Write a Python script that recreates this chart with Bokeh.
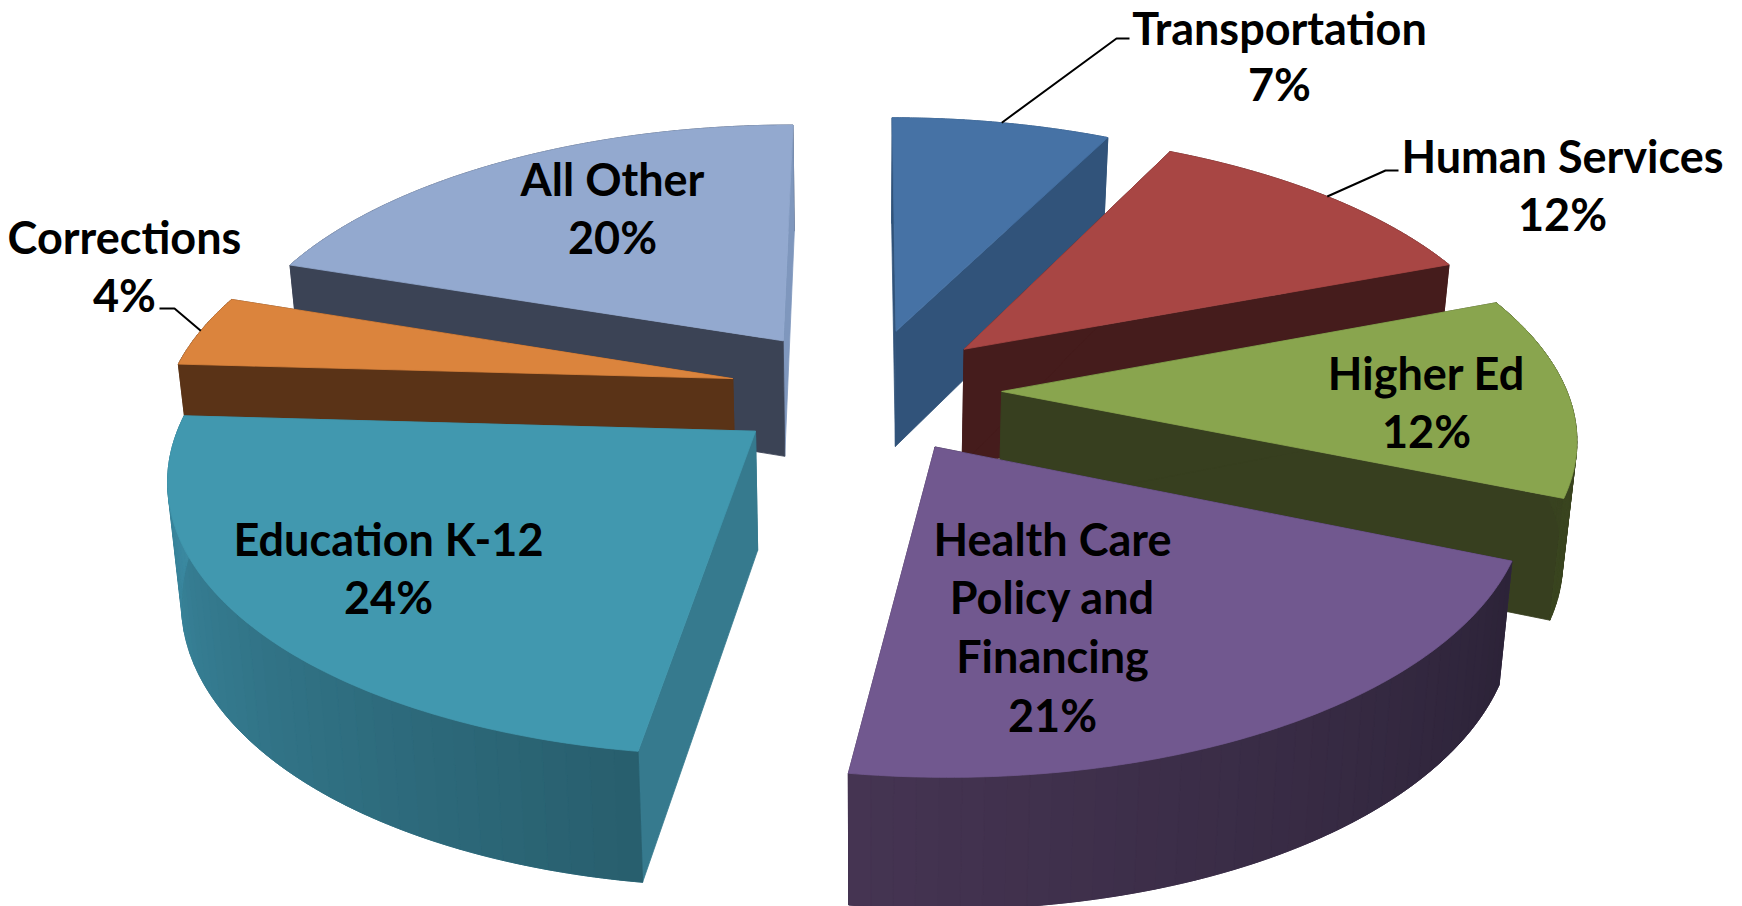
import numpy as np
from bokeh.plotting import figure
from bokeh.models import ColumnDataSource
from bokeh.embed import file_html
from bokeh.resources import INLINE
from bokeh.core.properties import value

# ---- data ----
categories = ["Transportation", "Human Services", "Higher Ed", "Health Care Policy and Financing",
              "Education K-12", "Corrections", "All Other"]
shares = [7.35, 11.85, 12.08, 21.02, 23.6, 4.3, 19.8]
label_lines = [["Transportation", "7%"], ["Human Services", "12%"], ["Higher Ed", "12%"],
               ["Health Care", "Policy and", "Financing", "21%"], ["Education K-12", "24%"],
               ["Corrections", "4%"], ["All Other", "20%"]]
top_colors = ["#4672A5", "#A84644", "#89A54E", "#71588F", "#4198AF", "#DB843D", "#93A9CF"]
start_face = ["#31537A", "#451C1C", "#373F1F", "#2C2338", "#367A8E", "#5A3317", "#3B4355"]
end_face = ["#31537A", "#451C1C", "#373F1F", "#453452", "#367A8E", "#5A3317", "#7F97BD"]
rim_start = ["#31537A", "#451C1C", "#373F1F", "#2C2338", "#285F6E", "#5A3317", "#3B4355"]
rim_end = ["#31537A", "#451C1C", "#3A4520", "#453452", "#3C8BA3", "#5A3317", "#3B4355"]
draw_order = [0, 6, 1, 5, 2, 4, 3]
slice_dx = [0, 0, 0, 0, -3, -1, -6]
label_x = [1279, 1562, 1426, 1052, 388, 124, 612]
label_y = [27, 155, 372, 538, 538, 236, 178]
label_step = [56.0, 58.8, 58.8, 58.8, 58.8, 58.8, 58.8]

# ---- projection ----
CX, CY, F, G, K, E, S = 865.5, 390.0, 565.0, 262.0, 0.15, 0.24, 0.98
D, KD = 117.5, 0.09


def top(X, Y):
    w = 1 + K * Y
    return CX + F * X / w, CY - G * Y / w


def bottom(X, Y):
    x, y = top(X, Y)
    return CX + (x - CX) * S, y + D / (1 + KD * Y)


def hex2rgb(h):
    return np.array([int(h[i:i + 2], 16) for i in (1, 3, 5)], float)


def mix(a, b, t):
    c = hex2rgb(a) * (1 - t) + hex2rgb(b) * t
    return "#%02x%02x%02x" % tuple(int(round(v)) for v in c)


fracs = np.cumsum([0] + shares) / sum(shares) * 2 * np.pi
xs, ys, cols = [], [], []


def add(px, py, c):
    xs.append(list(px)); ys.append(list(py)); cols.append(c)


def tip_of(i):
    mid = (fracs[i] + fracs[i + 1]) / 2
    return E * np.sin(mid), E * np.cos(mid)


BANDS, PER = 40, 3
for i in draw_order:
    a0, a1 = fracs[i], fracs[i + 1]
    tx, ty = tip_of(i)
    th = np.linspace(a0, a1, BANDS * PER + 1)
    X = tx + np.sin(th)
    Y = ty + np.cos(th)
    xt, yt = top(X, Y)
    xb, yb = bottom(X, Y)
    xt, xb = xt + slice_dx[i], xb + slice_dx[i]
    t0 = top(tx, ty)
    b0 = bottom(tx, ty)
    t0 = (t0[0] + slice_dx[i], t0[1])
    b0 = (b0[0] + slice_dx[i], b0[1])
    back, near = [], []
    for b in range(BANDS):
        j0, j1 = b * PER, (b + 1) * PER + 1
        c = mix(rim_start[i], rim_end[i], b / (BANDS - 1))
        q = (list(xt[j0:j1]) + list(xb[j0:j1])[::-1], list(yt[j0:j1]) + list(yb[j0:j1])[::-1], c)
        (back if np.cos(th[(j0 + j1) // 2]) > 0 else near).append(q)
    for q in back:
        add(*q)
    add([t0[0], xt[-1], xb[-1], b0[0]], [t0[1], yt[-1], yb[-1], b0[1]], end_face[i])
    add([t0[0], xt[0], xb[0], b0[0]], [t0[1], yt[0], yb[0], b0[1]], start_face[i])
    if near:
        # solid underlay so that no background leaks between the gradient bands
        add(list(xt) + list(xb)[::-1], list(yt) + list(yb)[::-1], mix(rim_start[i], rim_end[i], 0.5))
    for q in near:
        add(*q)
    add([t0[0]] + list(xt), [t0[1]] + list(yt), top_colors[i])

p = figure(width=1742, height=906, x_range=(0, 1742), y_range=(906, 0),
           output_backend="svg", toolbar_location=None, min_border=0)
p.axis.visible = False
p.grid.visible = False
p.outline_line_color = None
p.background_fill_color = "white"
p.patches("xs", "ys", fill_color="c", line_color="c", line_width=0.8,
          source=ColumnDataSource(dict(xs=xs, ys=ys, c=cols)))

# leader lines: from the rim at the slice's middle to the label
leaders = {0: ((1116, 38), (1129, 38)), 1: ((1385, 170), (1398, 170)), 5: ((174, 308), (159, 308))}
for i, (elbow, end) in leaders.items():
    tx, ty = tip_of(i)
    mid = (fracs[i] + fracs[i + 1]) / 2
    sx, sy = top(tx + np.sin(mid), ty + np.cos(mid))
    p.line([sx + slice_dx[i], elbow[0], end[0]], [sy, elbow[1], end[1]], line_color="black", line_width=2)

tx_, ty_, tt = [], [], []
for i, lines in enumerate(label_lines):
    for j, s in enumerate(lines):
        tx_.append(label_x[i]); ty_.append(label_y[i] + j * label_step[i]); tt.append(s)
p.text(tx_, ty_, text=tt, text_font=value("Lato"), text_font_style="bold", text_font_size="45px",
       text_color="black", text_align="center", text_baseline="middle")

open("out.html", "w").write(file_html(p, INLINE))
